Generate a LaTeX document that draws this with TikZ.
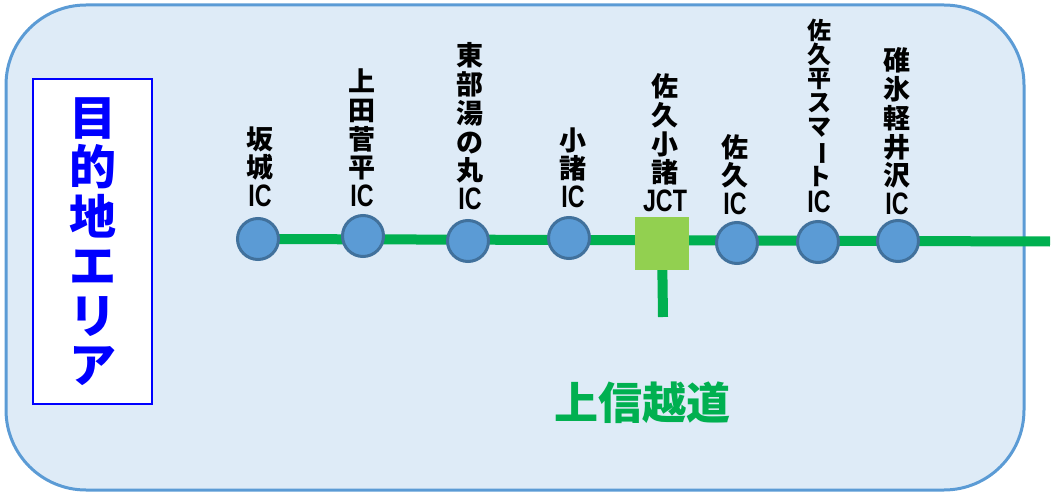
\documentclass[tikz,border=0pt]{standalone}
\usepackage{fontspec}
\usepackage{graphicx}
\newfontfamily\cjk{Noto Sans CJK JP}
\newfontfamily\lat[FakeStretch=0.75]{Liberation Sans}
\definecolor{bgfill}{HTML}{DEEBF7}
\definecolor{bgedge}{HTML}{5B9BD5}
\definecolor{icfill}{HTML}{5B9BD5}
\definecolor{icedge}{HTML}{41719C}
\definecolor{jctfill}{HTML}{92D050}
\definecolor{roadgreen}{HTML}{00B050}
\definecolor{titleblue}{HTML}{0000FF}
\pgfdeclarelayer{back}
\pgfdeclarelayer{mid}
\pgfsetlayers{back,mid,main}
\tikzset{
  icnode/.style={circle, draw=icedge, fill=icfill, line width=3pt, minimum size=41pt, inner sep=0pt},
  jctnode/.style={rectangle, fill=jctfill, minimum width=54pt, minimum height=53pt, inner sep=0pt},
  lbl/.style={anchor=south, align=center, inner sep=0pt, font=\cjk\bfseries\fontsize{27}{28.7}\selectfont},
  lblsmall/.style={anchor=south, align=center, inner sep=0pt, font=\cjk\bfseries\fontsize{24}{24}\selectfont},
  roadline/.style={draw=roadgreen, line width=10pt},
}
\newcommand{\IClat}{{\lat\fontsize{31}{28}\selectfont IC}}
\newcommand{\vbar}{\rotatebox[origin=c]{-90}{ー}}
\begin{document}
\begin{tikzpicture}[x=1pt,y=-1pt]
\useasboundingbox (0,0) rectangle (1058,500);
\begin{pgfonlayer}{back}
  \draw[draw=bgedge, fill=bgfill, line width=3pt, rounded corners=80pt] (6,5) rectangle (1024,490);
\end{pgfonlayer}

% title box
\node[draw=titleblue, fill=white, line width=2.5pt, minimum width=119pt, minimum height=325pt,
      inner sep=0pt, align=center, text=titleblue, font=\cjk\bfseries\fontsize{47}{49.5}\selectfont]
  (title) at (92.5,241.5) {目\\的\\地\\エ\\リ\\ア};

% stations
\node[icnode] (sakaki) at (258,239) {};
\node[icnode] (ueda) at (363,236) {};
\node[icnode] (tobu) at (468,241) {};
\node[icnode] (komoro) at (569,238) {};
\node[jctnode] (jct) at (662,243.5) {};
\node[icnode] (saku) at (737,243) {};
\node[icnode] (sakudaira) at (818,242) {};
\node[icnode] (usui) at (898,241) {};
\coordinate (eastend) at (1050,241.5);
\coordinate (southend) at (663,317);

% labels
\node[lbl] (lsakaki) at (260,207) {坂\\城\\\IClat};
\node[lbl] (lueda) at (362,207) {上\\田\\菅\\平\\\IClat};
\node[lbl] (ltobu) at (470,210) {東\\部\\湯\\の\\丸\\\IClat};
\node[lbl] (lkomoro) at (573,208) {小\\諸\\\IClat};
\node[lbl] (ljct) at (665,212) {佐\\久\\小\\諸\\{\lat\fontsize{31}{28}\selectfont JCT}};
\node[lbl] (lsaku) at (735,215) {佐\\久\\\IClat};
\node[lblsmall] (lsakudaira) at (819,213) {佐\\久\\平\\ス\\マ\\\vbar\\ト\\[3pt]\IClat};
\node[lbl] (lusui) at (897,215) {碓\\氷\\軽\\井\\沢\\\IClat};

% road name
\node[text=roadgreen, font=\cjk\bfseries\fontsize{44}{44}\selectfont, inner sep=0pt] (roadname) at (642,403) {上信越道};

% road
\begin{pgfonlayer}{mid}
  \draw[roadline] (sakaki.center) -- (eastend);
  \draw[roadline] (jct.center) -- (southend);
\end{pgfonlayer}
\end{tikzpicture}
\end{document}
